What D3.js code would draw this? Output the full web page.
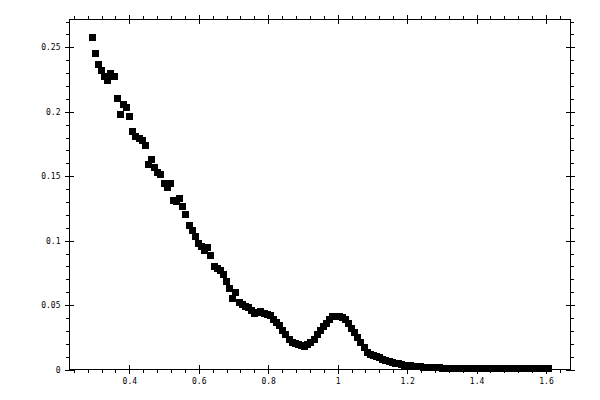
<!DOCTYPE html>
<html>
<head>
<meta charset="utf-8">
<script src="https://cdn.jsdelivr.net/npm/d3@7"></script>
<style>
  body { margin: 0; background: #fff; }
  svg { display: block; }
</style>
</head>
<body>
<svg id="chart"></svg>
<script>
const width = 600;
const height = 400;

// data
const xValues = [
    0.293, 0.302, 0.311, 0.320, 0.329, 0.338, 0.347, 0.356, 0.365, 0.374,
    0.383, 0.392, 0.401, 0.410, 0.419, 0.428, 0.437, 0.446, 0.455, 0.464,
    0.473, 0.482, 0.491, 0.500, 0.509, 0.518, 0.527, 0.536, 0.545, 0.554,
    0.563, 0.572, 0.581, 0.590, 0.599, 0.608, 0.617, 0.626, 0.635, 0.644,
    0.653, 0.662, 0.671, 0.680, 0.689, 0.698, 0.707, 0.716, 0.725, 0.734,
    0.743, 0.752, 0.761, 0.770, 0.779, 0.788, 0.797, 0.806, 0.815, 0.824,
    0.833, 0.842, 0.851, 0.860, 0.869, 0.878, 0.887, 0.896, 0.905, 0.914,
    0.923, 0.932, 0.941, 0.950, 0.959, 0.968, 0.977, 0.986, 0.995, 1.004,
    1.013, 1.022, 1.031, 1.040, 1.049, 1.058, 1.067, 1.076, 1.085, 1.094,
    1.103, 1.112, 1.121, 1.130, 1.139, 1.148, 1.157, 1.166, 1.175, 1.184,
    1.193, 1.202, 1.211, 1.220, 1.229, 1.238, 1.247, 1.256, 1.265, 1.274,
    1.283, 1.292, 1.301, 1.310, 1.319, 1.328, 1.337, 1.346, 1.355, 1.364,
    1.373, 1.382, 1.391, 1.400, 1.409, 1.418, 1.427, 1.436, 1.445, 1.454,
    1.463, 1.472, 1.481, 1.490, 1.499, 1.508, 1.517, 1.526, 1.535, 1.544,
    1.553, 1.562, 1.571, 1.580, 1.589, 1.598, 1.607
];

const yValues = [
    0.258, 0.245, 0.237, 0.232, 0.227, 0.224, 0.230, 0.227, 0.210, 0.198,
    0.206, 0.203, 0.196, 0.185, 0.181, 0.179, 0.178, 0.174, 0.159, 0.163,
    0.157, 0.153, 0.151, 0.144, 0.1415, 0.144, 0.131, 0.130, 0.1325, 0.1266,
    0.120, 0.112, 0.1076, 0.1035, 0.098, 0.0957, 0.0927, 0.095, 0.0885, 0.080,
    0.078, 0.0766, 0.0735, 0.068, 0.0629, 0.0551, 0.0595, 0.052, 0.0505, 0.049,
    0.048, 0.046, 0.0435, 0.044, 0.0447, 0.0435, 0.043, 0.042, 0.039, 0.0365,
    0.034, 0.030, 0.027, 0.0235, 0.021, 0.020, 0.0195, 0.0188, 0.018, 0.0192,
    0.021, 0.0235, 0.027, 0.030, 0.033, 0.036, 0.039, 0.0408, 0.0412, 0.041,
    0.040, 0.0385, 0.036, 0.032, 0.0285, 0.025, 0.021, 0.017, 0.013, 0.0115,
    0.011, 0.0098, 0.009, 0.008, 0.007, 0.006, 0.0055, 0.005, 0.0048, 0.0042,
    0.0032, 0.003, 0.003, 0.0025, 0.0022, 0.002, 0.0016, 0.0015, 0.0015, 0.0014,
    0.0013, 0.0012, 0.001, 0.001, 0.001, 0.0009, 0.0008, 0.0008, 0.0008, 0.0007,
    0.0007, 0.0007, 0.0007, 0.0007, 0.0007, 0.0007, 0.0007, 0.0007, 0.0007, 0.0007,
    0.0007, 0.0007, 0.0007, 0.0007, 0.0007, 0.0007, 0.0007, 0.0007, 0.0007, 0.0007,
    0.0007, 0.0007, 0.0007, 0.0007, 0.0007, 0.0007, 0.0007
];

const xTicks = [0.4, 0.6, 0.8, 1, 1.2, 1.4, 1.6];
const xTickLabels = ["0.4", "0.6", "0.8", "1", "1.2", "1.4", "1.6"];
const xMinorTicks = [
    0.24, 0.28, 0.32, 0.36, 0.44, 0.48, 0.52, 0.56, 0.64, 0.68, 0.72, 0.76,
    0.84, 0.88, 0.92, 0.96, 1.04, 1.08, 1.12, 1.16, 1.24, 1.28, 1.32, 1.36,
    1.44, 1.48, 1.52, 1.56, 1.64
];

const yTicks = [0, 0.05, 0.1, 0.15, 0.2, 0.25];
const yTickLabels = ["0", "0.05", "0.1", "0.15", "0.2", "0.25"];
const yMinorTicks = [
    0.01, 0.02, 0.03, 0.04, 0.06, 0.07, 0.08, 0.09, 0.11, 0.12, 0.13, 0.14,
    0.16, 0.17, 0.18, 0.19, 0.21, 0.22, 0.23, 0.24, 0.26, 0.27
];

const points = d3.zip(xValues, yValues);

const plotLeft = 69.5, plotRight = 570.5, plotTop = 19.5, plotBottom = 369.5;

const svg = d3.select("#chart")
    .attr("width", width)
    .attr("height", height);

const x = d3.scaleLinear()
    .domain([0.2278, 1.6705])
    .range([plotLeft, plotRight]);

const y = d3.scaleLinear()
    .domain([0, 0.2716])
    .range([plotBottom, plotTop]);

const font = "'DejaVu Sans Mono', monospace";

function labelFor(ticks, labels) {
    return d => labels[ticks.indexOf(d)];
}

// one side of the frame: minor ticks outward, major ticks crossing the line
function drawSide(axisFn, scale, pos, ticks, labels, minor, showLabels) {

    const shift = (axisFn === d3.axisBottom || axisFn === d3.axisTop)
        ? `translate(0,${pos})`
        : `translate(${pos},0)`;

    svg.append("g")
        .attr("transform", shift)
        .call(axisFn(scale).tickValues(minor).tickSize(3.5).tickFormat(""))
        .call(g => g.select(".domain").remove());

    svg.append("g")
        .attr("transform", shift)
        .call(axisFn(scale).tickValues(ticks).tickSize(-4.5).tickFormat(""))
        .call(g => g.select(".domain").remove());

    const g = svg.append("g")
        .attr("transform", shift)
        .call(axisFn(scale)
            .tickValues(ticks)
            .tickSize(4.5)
            .tickPadding(4.5)
            .tickFormat(showLabels ? labelFor(ticks, labels) : ""))
        .call(g => g.select(".domain").remove());

    g.selectAll("text")
        .attr("fill", "#000")
        .style("font-family", font)
        .style("font-size", "8px");
}

drawSide(d3.axisBottom, x, plotBottom, xTicks, xTickLabels, xMinorTicks, true);
drawSide(d3.axisTop, x, plotTop, xTicks, xTickLabels, xMinorTicks, false);
drawSide(d3.axisLeft, y, plotLeft, yTicks, yTickLabels, yMinorTicks, true);
drawSide(d3.axisRight, y, plotRight, yTicks, yTickLabels, yMinorTicks, false);

svg.selectAll(".tick line")
    .attr("stroke", "#000")
    .attr("shape-rendering", "crispEdges");

// frame
svg.append("rect")
    .attr("x", plotLeft)
    .attr("y", plotTop)
    .attr("width", plotRight - plotLeft)
    .attr("height", plotBottom - plotTop)
    .attr("fill", "none")
    .attr("stroke", "#000")
    .attr("shape-rendering", "crispEdges");

const size = 7;

svg.append("g")
    .selectAll("rect")
    .data(points)
    .enter()
    .append("rect")
    .attr("x", d => x(d[0]) - size / 2)
    .attr("y", d => y(d[1]) - size / 2)
    .attr("width", size)
    .attr("height", size)
    .attr("fill", "#000")
    .attr("shape-rendering", "crispEdges");
</script>
</body>
</html>
